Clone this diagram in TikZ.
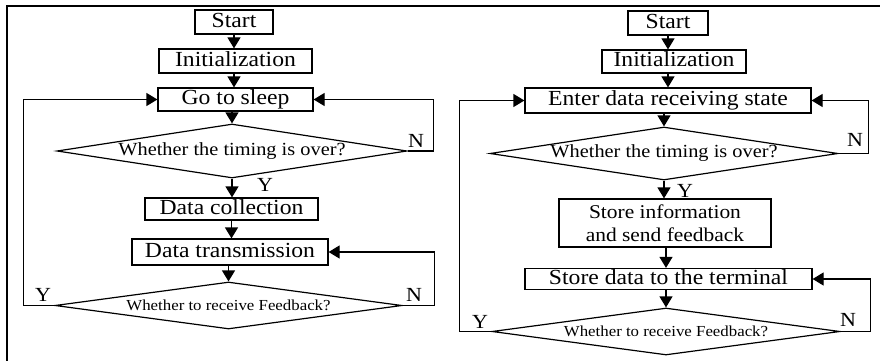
\documentclass[tikz,border=0pt]{standalone}
\usepackage{fontspec}
\setmainfont{Liberation Serif}[FakeStretch=1.1]
\usetikzlibrary{arrows.meta, shapes.geometric, positioning}

\begin{document}
\begin{tikzpicture}[x=1pt, y=-1pt,
		blk/.style={draw, line width=1.2pt, inner sep=0pt, font=\fontsize{21.5}{23}\selectfont},
		box/.style={blk, text height=14.6pt, text depth=4.3pt},
		dec/.style={diamond, aspect=6.5, draw, line width=1.2pt, inner sep=0pt, inner xsep=-20pt},
		arr/.style={line width=1.2pt, -{Triangle[length=11pt,width=13pt]}},
		yn/.style={font=\fontsize{20}{20}\selectfont, inner sep=0pt}]
	\useasboundingbox (0,0) rectangle (880,361);
	% frame
	\draw[line width=1.3pt] (880,6) -- (7,6) -- (7,361);
	
	% left chart
	\node[box, minimum width=78pt, minimum height=24pt] (start) at (234,22) {Start};
	\node[box, minimum width=153pt, minimum height=24pt] (init) at (235.5,61) {Initialization};
	\node[box, minimum width=155pt, minimum height=23pt] (sleep) at (235.5,99.5) {Go to sleep};
	\node[dec, minimum width=350pt, minimum height=54pt, font=\fontsize{18.5}{19}\selectfont] (time) at (232,151) {Whether the timing is over?};
	\node[box, minimum width=173pt, minimum height=22pt] (coll) at (231.5,209) {Data collection};
	\node[box, minimum width=196pt, minimum height=26pt] (trans) at (230,252) {Data transmission};
	\node[dec, minimum width=347pt, minimum height=47pt, font=\fontsize{15.3}{16}\selectfont] (fb) at (228.5,305.5) {Whether to receive Feedback?};
	
	\draw[arr] (start.south) -- (start.south |- init.north);
	\draw[arr] (init.south -| start) -- (start |- sleep.north);
	\draw[arr] (time |- sleep.south) -- (time.north);
	\draw[arr] (time.south) -- (time.south |- coll.north);
	\draw[arr] (coll.south) -- (coll.south |- trans.north);
	\draw[arr] (fb |- trans.south) -- (fb.north);
	\draw[arr] (time.east) -- ++(26,0) |- (sleep.east);
	\draw[arr] (fb.east) -- ++(32,0) |- (trans.east);
	\draw[arr] (fb.west) -- ++(-31,0) |- (sleep.west);
	
	\node[yn] (ty) at (265,185) {Y};
	\node[yn] (tn) at (416,141) {N};
	\node[yn] (fy) at (43,295) {Y};
	\node[yn] (fn) at (414,295) {N};
	
	% right chart
	\node[box, minimum width=80pt, minimum height=24pt] (rstart) at (668,23) {Start};
	\node[box, minimum width=144pt, minimum height=23pt] (rinit) at (674,61.5) {Initialization};
	\node[box, minimum width=286pt, minimum height=25pt] (recv) at (668,100.5) {Enter data receiving state};
	\node[dec, minimum width=348pt, minimum height=53pt, font=\fontsize{18.5}{19}\selectfont] (rtime) at (664,153.5) {Whether the timing is over?};
	\node[blk, minimum width=212pt, minimum height=48pt, align=center, font=\fontsize{19.5}{23}\selectfont] (store) at (665,223) {Store information\\ and send feedback};
	\node[box, minimum width=287pt, minimum height=21pt] (term) at (668.5,279) {Store data to the terminal};
	\node[dec, minimum width=348pt, minimum height=47pt, font=\fontsize{15.3}{16}\selectfont] (rfb) at (666,331.5) {Whether to receive Feedback?};
	
	\draw[arr] (rstart.south) -- (rstart.south |- rinit.north);
	\draw[arr] (rstart |- rinit.south) -- (rstart |- recv.north);
	\draw[arr] (rtime |- recv.south) -- (rtime.north);
	\draw[arr] (rtime.south) -- (rtime.south |- store.north);
	\draw[arr] (rfb |- store.south) -- (rfb |- term.north);
	\draw[arr] (rfb |- term.south) -- (rfb.north);
	\draw[arr] (rtime.east) -- ++(30,0) |- (recv.east);
	\draw[arr] (rfb.east) -- ++(30,0) |- (term.east);
	\draw[arr] (rfb.west) -- ++(-32,0) |- (recv.west);
	
	\node[yn] (rty) at (685,191) {Y};
	\node[yn] (rtn) at (855,140) {N};
	\node[yn] (rfy) at (480,322) {Y};
	\node[yn] (rfn) at (848,320) {N};
\end{tikzpicture}
\end{document}
